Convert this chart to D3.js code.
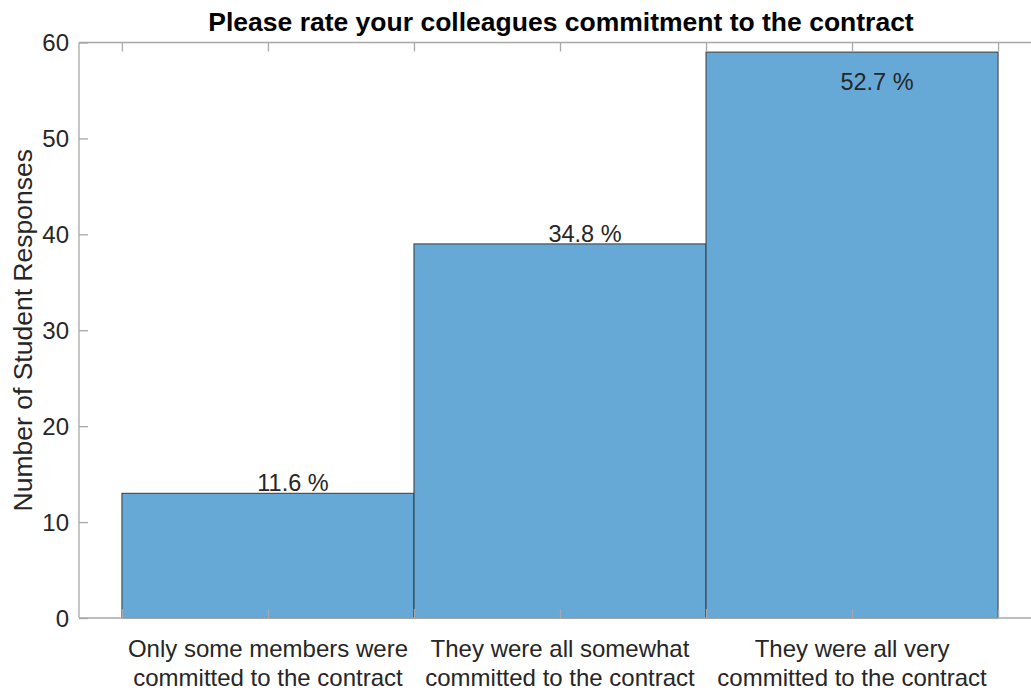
<!DOCTYPE html>
<html>
<head>
<meta charset="utf-8">
<script src="https://cdn.jsdelivr.net/npm/d3@7/dist/d3.min.js"></script>
<style>
  html, body { margin: 0; padding: 0; background: #fff; }
  svg { display: block; font-family: "Liberation Sans", Arial, sans-serif; }
</style>
</head>
<body>
<svg id="chart" width="1031" height="691"></svg>
<script>
const categories = [
  ["Only some members were", "committed to the contract"],
  ["They were all somewhat", "committed to the contract"],
  ["They were all very", "committed to the contract"]
];
const counts = [13, 39, 59];
const percentLabels = ["11.6 %", "34.8 %", "52.7 %"];
const yTicks = [0, 10, 20, 30, 40, 50, 60];
const title = "Please rate your colleagues commitment to the contract";
const yLabel = "Number of Student Responses";

(function () {
const svg = d3.select("#chart");
const pLeft = 79, pRight = 1041, pTop = 42.5, pBottom = 618;
const x = d3.scaleLinear().domain([0.353, 3.647]).range([pLeft, pRight]);
const y = d3.scaleLinear().domain([0, 60]).range([pBottom, pTop]);
const axisColor = "#a8a8a8";
const textColor = "#262626";

// bars
const idx = d3.range(categories.length);
svg.append("g").selectAll("rect").data(idx).join("rect")
  .attr("x", i => x(i + 0.5))
  .attr("width", i => x(i + 1.5) - x(i + 0.5))
  .attr("y", i => y(counts[i]))
  .attr("height", i => y(0) - y(counts[i]))
  .attr("fill", "#66a9d7")
  .attr("stroke", "#3a3a3a")
  .attr("stroke-width", 1);

// axes box
const tickVals = d3.range(0.5, 3.51, 0.5);
const gx = svg.append("g").attr("transform", `translate(0,${pBottom})`)
  .call(d3.axisBottom(x).tickValues(tickVals).tickSize(-9).tickFormat(""));
const gxt = svg.append("g").attr("transform", `translate(0,${pTop})`)
  .call(d3.axisTop(x).tickValues(tickVals).tickSize(-9).tickFormat(""));
const gy = svg.append("g").attr("transform", `translate(${pLeft},0)`)
  .call(d3.axisLeft(y).tickValues(yTicks).tickSize(-9).tickPadding(10));
[gx, gxt, gy].forEach(g => {
  g.select(".domain").attr("stroke", axisColor).attr("stroke-width", 1.3);
  g.selectAll(".tick line").attr("stroke", axisColor).attr("stroke-width", 1.3);
});
gx.select(".domain").attr("d", `M${pLeft},0H${pRight}`);
gxt.select(".domain").attr("d", `M${pLeft},0H${pRight}`);
gy.select(".domain").attr("d", `M0,${pBottom}V${pTop}`);
gy.selectAll(".tick text")
  .attr("font-size", 24).attr("fill", textColor)
  .attr("font-family", "Liberation Sans, Arial, sans-serif")
  .attr("dy", "0.35em");

// category labels
const catG = svg.append("g");
idx.forEach(i => {
  const t = catG.append("text")
    .attr("x", x(i + 1)).attr("text-anchor", "middle")
    .attr("font-size", 24).attr("fill", textColor);
  t.append("tspan").attr("x", x(i + 1)).attr("y", 657).text(categories[i][0]);
  t.append("tspan").attr("x", x(i + 1)).attr("y", 686).text(categories[i][1]);
});

// percent labels
svg.append("g").selectAll("text").data(idx).join("text")
  .attr("x", i => x(i + 1) + 25)
  .attr("y", i => counts[i] > 55 ? y(counts[i]) + 38 : y(counts[i]) - 2)
  .attr("text-anchor", "middle")
  .attr("font-size", 23.5).attr("fill", textColor)
  .text(i => percentLabels[i]);

// title
svg.append("text")
  .attr("x", 561).attr("y", 31)
  .attr("text-anchor", "middle")
  .attr("font-size", 26.5).attr("font-weight", "bold").attr("fill", "#000")
  .text(title);

// y label
svg.append("text")
  .attr("transform", `translate(32,${(pTop + pBottom) / 2 + 0}) rotate(-90)`)
  .attr("text-anchor", "middle")
  .attr("font-size", 26.5).attr("fill", textColor)
  .text(yLabel);
})();
</script>
</body>
</html>
